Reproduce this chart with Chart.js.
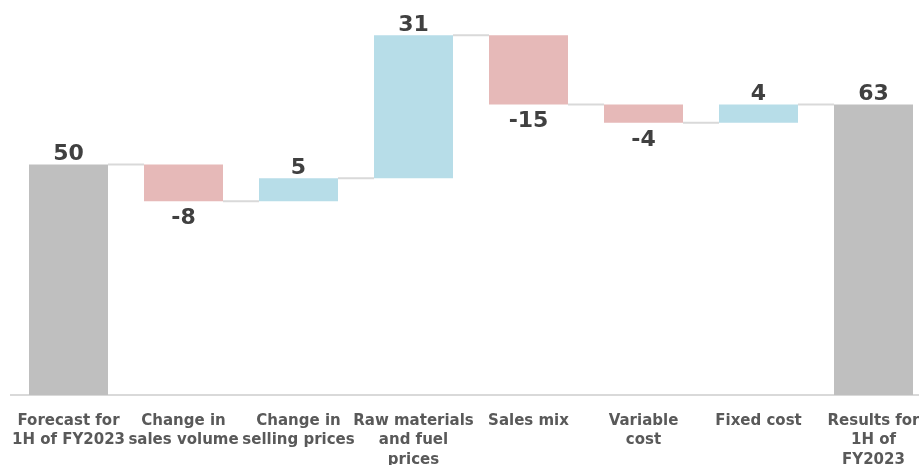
<!DOCTYPE html>
<html>
<head>
<meta charset="utf-8">
<script src="https://cdn.jsdelivr.net/npm/chart.js@4/dist/chart.umd.min.js"></script>
<style>
  html, body { margin: 0; padding: 0; background: #fff; overflow: hidden; }
  #wrap { position: relative; width: 931px; height: 475px; }
</style>
</head>
<body>
<div id="wrap"><canvas id="bridge"></canvas></div>
<script>
const categories = [
    ["Forecast for", "1H of FY2023"],
    ["Change in", "sales volume"],
    ["Change in", "selling prices"],
    ["Raw materials", "and fuel", "prices"],
    ["Sales mix"],
    ["Variable", "cost"],
    ["Fixed cost"],
    ["Results for", "1H of", "FY2023"]
];
const changes = [50, -8, 5, 31, -15, -4, 4, 63];
const isTotal = [true, false, false, false, false, false, false, true];

const totalColor = "#bfbfbf";
const upColor = "#b7dde8";
const downColor = "#e6b9b8";

// build floating bars [start, end] from the running total
let running = 0;
const floating = changes.map((v, i) => {
    if (isTotal[i]) {
        running = v;
        return [0, v];
    }
    const start = running;
    running += v;
    return [start, running];
});
const colors = changes.map((v, i) => isTotal[i] ? totalColor : (v < 0 ? downColor : upColor));

const labelFont = "bold 22px 'DejaVu Sans', Verdana, sans-serif";

const bridgePlugin = {
    id: "bridge",
    beforeDatasetsDraw(chart) {
        const ctx = chart.ctx;
        const meta = chart.getDatasetMeta(0);
        const y = chart.scales.y;
        ctx.save();
        ctx.strokeStyle = "#d9d9d9";
        ctx.lineWidth = 2;
        for (let i = 0; i < floating.length - 1; i++) {
            const a = meta.data[i], b = meta.data[i + 1];
            const level = y.getPixelForValue(floating[i][1]);
            ctx.beginPath();
            ctx.moveTo(a.x + a.width / 2, level);
            ctx.lineTo(b.x - b.width / 2, level);
            ctx.stroke();
        }
        ctx.restore();
    },
    afterDatasetsDraw(chart) {
        const ctx = chart.ctx;
        const meta = chart.getDatasetMeta(0);
        const y = chart.scales.y;
        ctx.save();
        ctx.font = labelFont;
        ctx.fillStyle = "#404040";
        ctx.textAlign = "center";
        changes.forEach((v, i) => {
            const bar = meta.data[i];
            const lo = Math.min(floating[i][0], floating[i][1]);
            const hi = Math.max(floating[i][0], floating[i][1]);
            if (v < 0 && !isTotal[i]) {
                ctx.textBaseline = "top";
                ctx.fillText(String(v), bar.x, y.getPixelForValue(lo) + 6);
            } else {
                ctx.textBaseline = "alphabetic";
                ctx.fillText(String(v), bar.x, y.getPixelForValue(hi) - 4);
            }
        });
        ctx.restore();
    }
};

const ctx = document.getElementById("bridge").getContext("2d");
new Chart(ctx, {
    type: "bar",
    data: {
        labels: categories,
        datasets: [{
            data: floating,
            backgroundColor: colors,
            borderWidth: 0,
            categoryPercentage: 1,
            barPercentage: 0.687
        }]
    },
    options: {
        responsive: true,
        maintainAspectRatio: false,
        animation: false,
        layout: { padding: { left: 11, right: 0, top: 26, bottom: 0 } },
        plugins: {
            legend: { display: false },
            tooltip: { enabled: false }
        },
        scales: {
            x: {
                grid: { display: false, drawTicks: false },
                border: { display: true, color: "#d9d9d9", width: 2 },
                ticks: {
                    color: "#595959",
                    font: { family: "'DejaVu Sans', Verdana, sans-serif", size: 15, weight: "bold", lineHeight: 1.3 },
                    padding: 16,
                    maxRotation: 0,
                    autoSkip: false
                },
                afterFit: s => {
                    s.height = 80;
                    s.paddingLeft = 0;
                    s.paddingRight = 0;
                }
            },
            y: {
                display: false,
                min: 0,
                max: 80
            }
        }
    },
    plugins: [bridgePlugin]
});
</script>
</body>
</html>
